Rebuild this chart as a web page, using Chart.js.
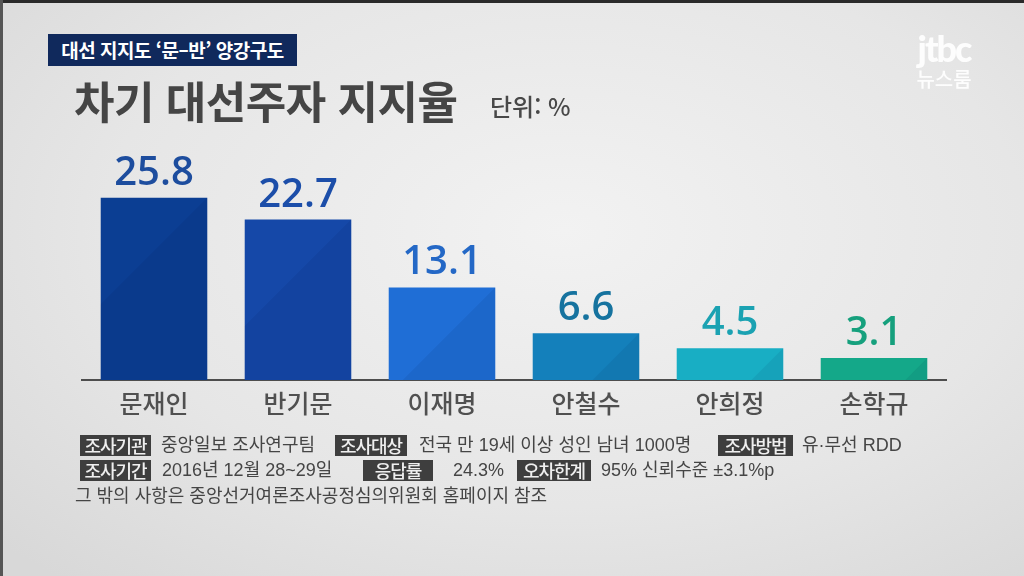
<!DOCTYPE html>
<html lang="ko">
<head>
<meta charset="utf-8">
<script src="https://cdn.jsdelivr.net/npm/chart.js@4.4.1/dist/chart.umd.min.js"></script>
<style>
  html, body { margin: 0; padding: 0; }
  body {
    width: 1024px; height: 576px; overflow: hidden; position: relative;
    background: radial-gradient(ellipse 75% 80% at 55% 40%, #f2f2f2 0%, #e6e6e6 60%, #d8d8d8 100%);
    font-family: "Noto Sans CJK KR", "Noto Sans", sans-serif;
  }
  .frame-top { position: absolute; left: 0; top: 0; width: 1024px; height: 3px; background: #2a2a2a; }
  .frame-left { position: absolute; left: 0; top: 0; width: 3px; height: 576px; background: #555; }
  #chart { position: absolute; left: 0; top: 0; }
  .tag {
    position: absolute; left: 48px; top: 34px; width: 249px; height: 32px;
    background: #10295c; color: #fff; font-size: 19px; font-weight: 700;
    line-height: 32px; text-align: center; letter-spacing: -0.5px;
  }
  .title {
    position: absolute; left: 74px; top: 68px; font-size: 44px; font-weight: 700;
    color: #454545; letter-spacing: -0.5px;
  }
  .unit {
    position: absolute; left: 490px; top: 88px; font-size: 24px; font-weight: 500; color: #484848;
  }
  .logo { position: absolute; left: 908px; top: 30px; width: 72px; text-align: center; color: rgba(255,255,255,0.92); }
  .logo .jtbc { font-family: "Lato", sans-serif; font-weight: 900; font-size: 36px; line-height: 36px; letter-spacing: -2px; }
  .logo .news { font-size: 20px; font-weight: 500; line-height: 26px; }
  .foot {
    position: absolute; font-family: "Liberation Sans", "Noto Sans CJK KR", sans-serif;
    font-size: 18px; color: #454545; white-space: nowrap; line-height: 22px;
  }
  .box {
    position: absolute; height: 21px; background: #3e3e3e; color: #efefef;
    font-size: 18px; font-weight: 500; line-height: 21px; text-align: center;
    white-space: nowrap; letter-spacing: -1px;
  }
</style>
</head>
<body>
<div class="frame-top"></div>
<div class="frame-left"></div>
<canvas id="chart" width="1024" height="576"></canvas>

<div class="tag">대선 지지도 ‘문–반’ 양강구도</div>
<div class="title">차기 대선주자 지지율</div>
<div class="unit">단위: %</div>
<div class="logo"><div class="jtbc">jtbc</div><div class="news">뉴스룸</div></div>

<div class="box" style="left:80px; top:435px; width:71px;">조사기관</div>
<div class="foot" style="left:161px; top:434px;">중앙일보 조사연구팀</div>
<div class="box" style="left:335px; top:435px; width:72px;">조사대상</div>
<div class="foot" style="left:419px; top:434px;">전국 만 19세 이상 성인 남녀 1000명</div>
<div class="box" style="left:718px; top:435px; width:75px;">조사방법</div>
<div class="foot" style="left:802px; top:434px;">유·무선 RDD</div>

<div class="box" style="left:80px; top:460px; width:71px;">조사기간</div>
<div class="foot" style="left:162px; top:459px;">2016년 12월 28~29일</div>
<div class="box" style="left:363px; top:460px; width:70px;">응답률</div>
<div class="foot" style="left:453px; top:459px;">24.3%</div>
<div class="box" style="left:517px; top:460px; width:74px;">오차한계</div>
<div class="foot" style="left:601px; top:459px;">95% 신뢰수준 ±3.1%p</div>

<div class="foot" style="left:75px; top:485px;">그 밖의 사항은 중앙선거여론조사공정심의위원회 홈페이지 참조</div>

<script>
// --- 데이터 ---
const candidates = ["문재인", "반기문", "이재명", "안철수", "안희정", "손학규"];
const support = [25.8, 22.7, 13.1, 6.6, 4.5, 3.1];

// --- 색상 ---
const barColors = ["#0b3e93", "#1548a8", "#1f6ed6", "#1480bb", "#18aec4", "#14a889"];
const valueColors = ["#1d4d9e", "#1c4ea9", "#2468c6", "#16739f", "#1ba2b2", "#16a07d"];

// 막대 위 수치 + 대각선 음영
const valueLabels = {
    id: "valueLabels",
    afterDatasetsDraw(chart) {
        const ctx = chart.ctx;
        const meta = chart.getDatasetMeta(0);
        meta.data.forEach((bar, i) => {
            const { x, y, base, width } = bar.getProps(["x", "y", "base", "width"], true);
            const left = x - width / 2;
            const right = x + width / 2;

            ctx.save();
            ctx.beginPath();
            ctx.rect(left, y, width, base - y);
            ctx.clip();
            ctx.beginPath();
            ctx.moveTo(right, y);
            ctx.lineTo(right, y + 1000);
            ctx.lineTo(right - 1000, y + 1000);
            ctx.closePath();
            ctx.fillStyle = "rgba(0, 20, 60, 0.07)";
            ctx.fill();
            ctx.restore();

            ctx.save();
            ctx.font = "600 40px 'Open Sans'";
            ctx.fillStyle = valueColors[i];
            ctx.textAlign = "center";
            ctx.textBaseline = "alphabetic";
            ctx.fillText(support[i].toFixed(1), x, y - 13);
            ctx.restore();
        });
    }
};

new Chart(document.getElementById("chart").getContext("2d"), {
    type: "bar",
    data: {
        labels: candidates,
        datasets: [{
            data: support,
            backgroundColor: barColors,
            borderWidth: 0,
            barPercentage: 0.74,
            categoryPercentage: 1.0
        }]
    },
    options: {
        responsive: false,
        animation: false,
        layout: { padding: { left: 82, right: 78, top: 168, bottom: 0 } },
        scales: {
            y: { display: false, min: 0, max: 30 },
            x: {
                grid: { display: false, drawTicks: false },
                border: { display: true, color: "#4d4d4d", width: 2 },
                ticks: {
                    padding: 8,
                    color: "#505050",
                    font: { family: "Noto Sans CJK KR", size: 25, weight: "500" }
                },
                afterFit(scale) { scale.height = 196; }
            }
        },
        plugins: {
            legend: { display: false },
            tooltip: { enabled: false }
        }
    },
    plugins: [valueLabels]
});
</script>
</body>
</html>
